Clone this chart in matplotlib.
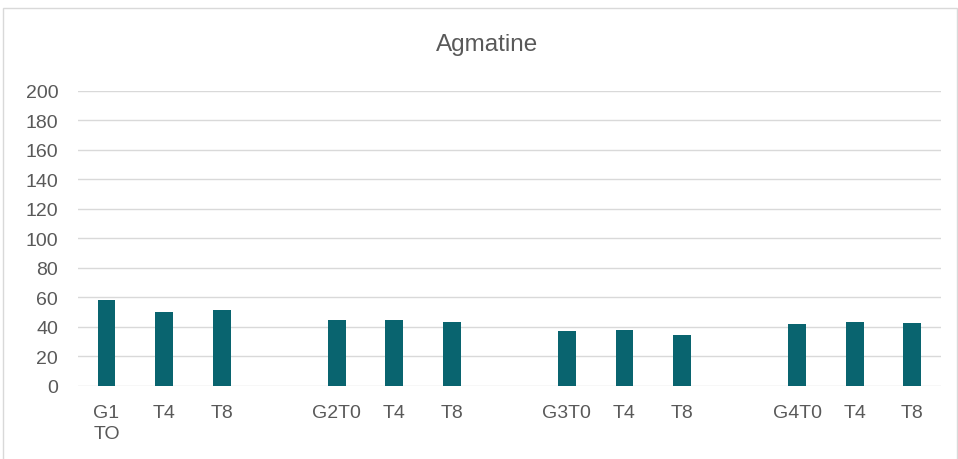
import matplotlib.pyplot as plt
import numpy as np
from matplotlib.patches import Rectangle

categories = ["G1\nTO", "T4", "T8", "", "G2T0", "T4", "T8", "",
              "G3T0", "T4", "T8", "", "G4T0", "T4", "T8"]
values = [58.6, 50.0, 51.8, np.nan, 44.8, 45.0, 43.6, np.nan,
          37.4, 37.8, 34.4, np.nan, 42.0, 43.6, 42.8]
y_ticks = list(range(0, 201, 20))

text_color = "#595959"
bar_color = "#09646F"
grid_color = "#D9D9D9"

plt.rcParams["font.family"] = ["Liberation Sans", "DejaVu Sans"]

fig = plt.figure(figsize=(9.58, 4.6), dpi=100)
ax = fig.add_axes([0.0811, 0.1587, 0.9012, 0.6413])

# chart frame
fig.patches.append(Rectangle((3 / 958, -0.1), 954 / 958, 1.1 - 9 / 460,
                             transform=fig.transFigure, fill=False,
                             edgecolor="#D9D9D9", linewidth=1.0))

x = np.arange(len(categories))
ax.bar(x, values, width=0.31, color=bar_color, zorder=3)

ax.set_xlim(-0.5, len(categories) - 0.5)
ax.set_ylim(0, 200)
ax.set_yticks(y_ticks)
ax.set_xticks(x)
ax.set_xticklabels(categories, va="top", ha="center")

ax.grid(axis="y", color=grid_color, linewidth=1.0, zorder=0)
for s in ax.spines.values():
    s.set_visible(False)
ax.tick_params(axis="both", length=0, labelsize=14, labelcolor=text_color)
ax.tick_params(axis="y", pad=14)
ax.tick_params(axis="x", pad=13)
for lbl in ax.get_xticklabels():
    lbl.set_linespacing(1.3)
    lbl.set_multialignment("left")

fig.text(0.508, 0.902, "Agmatine", ha="center", va="center",
         fontsize=17.5, color=text_color)

fig.savefig("out.png", dpi=100)
plt.close(fig)
